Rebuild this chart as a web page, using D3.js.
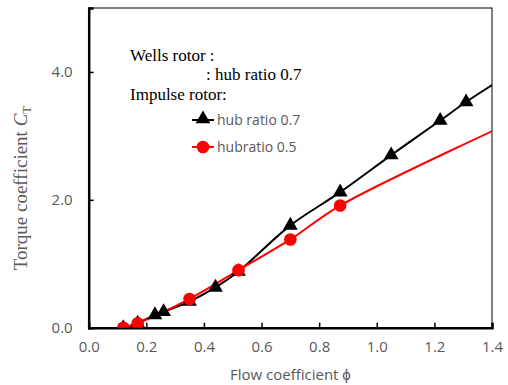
<!DOCTYPE html>
<html>
<head>
<meta charset="utf-8">
<script src="https://cdn.jsdelivr.net/npm/d3@7"></script>
<style>
  html, body { margin: 0; padding: 0; background: #fff; }
  svg { display: block; }
</style>
</head>
<body>
<svg id="chart" width="508" height="385"></svg>
<script>
// Impulse rotor, hub ratio 0.7 (triangles)
const phiHub07 = [0.12, 0.17, 0.23, 0.26, 0.35, 0.44, 0.52, 0.70, 0.873, 1.05, 1.22, 1.31, 1.48];
const ctHub07  = [0.00, 0.07, 0.20, 0.25, 0.41, 0.63, 0.88, 1.60, 2.12, 2.70, 3.24, 3.53, 4.02];
// Impulse rotor, hub ratio 0.5 (circles)
const phiHub05 = [0.12, 0.17, 0.35, 0.52, 0.70, 0.873, 1.50];
const ctHub05  = [0.00, 0.07, 0.45, 0.90, 1.38, 1.91, 3.28];

const xTicks = [0.0, 0.2, 0.4, 0.6, 0.8, 1.0, 1.2, 1.4];
const yTicks = [0.0, 2.0, 4.0];
const seriesNames = ["hub ratio 0.7", "hubratio 0.5"];
const seriesColors = ["#000000", "#ff0000"];

const svg = d3.select("#chart");
const margin = { left: 88.7, right: 16, top: 8, bottom: 57.3 };
const W = 508, H = 385;
const x = d3.scaleLinear().domain([0, 1.4]).range([margin.left, W - margin.right]);
const y = d3.scaleLinear().domain([0, 5]).range([H - margin.bottom, margin.top]);

const tickFont = "'Open Sans', sans-serif";
const serif = "'Liberation Serif', 'Times New Roman', serif";
const grey = "#595959";

svg.append("defs").append("clipPath").attr("id", "plotClip")
  .append("rect")
  .attr("x", x(0)).attr("y", y(5))
  .attr("width", x(1.4) - x(0)).attr("height", y(0) - y(5));

// Frame
svg.append("rect")
  .attr("x", x(0)).attr("y", y(5))
  .attr("width", x(1.4) - x(0)).attr("height", y(0) - y(5))
  .attr("fill", "none").attr("stroke", "#000").attr("stroke-width", 1);

// Axes with inward ticks
const xAxis = svg.append("g").attr("transform", `translate(0,${y(0)})`)
  .call(d3.axisBottom(x).tickValues(xTicks).tickSize(-5).tickPadding(14).tickFormat(d3.format(".1f")));
const yAxis = svg.append("g").attr("transform", `translate(${x(0)},0)`)
  .call(d3.axisLeft(y).tickValues(yTicks).tickSize(-5).tickPadding(16).tickFormat(d3.format(".1f")));
[xAxis, yAxis].forEach(g => {
  g.select(".domain").attr("stroke", "#000").attr("stroke-width", 2.5);
  g.selectAll(".tick line").attr("stroke", "#000").attr("stroke-width", 1.5);
  g.selectAll(".tick text").attr("fill", grey).attr("font-family", tickFont).attr("font-size", 15);
});
xAxis.selectAll(".tick text").attr("dy", "0.71em");

// Axis titles
svg.append("text")
  .attr("x", (x(0) + x(1.4)) / 2).attr("y", 380)
  .attr("text-anchor", "middle")
  .attr("font-family", tickFont).attr("font-size", 15).attr("fill", grey)
  .text("Flow coefficient \u03D5");

const yTitle = svg.append("text")
  .attr("transform", `translate(27,${188}) rotate(-90)`)
  .attr("text-anchor", "middle")
  .attr("font-family", serif).attr("font-size", 19).attr("fill", grey);
yTitle.append("tspan").text("Torque coefficient ");
yTitle.append("tspan").attr("font-style", "italic").text("C");
yTitle.append("tspan").attr("font-size", 13).attr("dy", 4).text("T");

// Series
const plot = svg.append("g").attr("clip-path", "url(#plotClip)");
const line = d3.line().x(d => x(d[0])).y(d => y(d[1])).curve(d3.curveCatmullRom.alpha(0.5));
const data07 = phiHub07.map((p, i) => [p, ctHub07[i]]);
const data05 = phiHub05.map((p, i) => [p, ctHub05[i]]);

plot.append("path").datum(data07).attr("d", line)
  .attr("fill", "none").attr("stroke", seriesColors[0]).attr("stroke-width", 2);
plot.append("path").datum(data05).attr("d", line)
  .attr("fill", "none").attr("stroke", seriesColors[1]).attr("stroke-width", 2);

const tri = d3.symbol().type(d3.symbolTriangle).size(95);
plot.selectAll(".tri").data(data07).join("path")
  .attr("class", "tri")
  .attr("transform", d => `translate(${x(d[0])},${y(d[1])})`)
  .attr("d", tri).attr("fill", seriesColors[0]);
plot.selectAll(".dot").data(data05).join("circle")
  .attr("class", "dot")
  .attr("cx", d => x(d[0])).attr("cy", d => y(d[1])).attr("r", 6.3)
  .attr("fill", seriesColors[1]);

// Legend
const legendText = [
  { t: "Wells rotor :", x: 130, y: 61 },
  { t: ": hub ratio 0.7", x: 206, y: 80 },
  { t: "Impulse rotor:", x: 130, y: 100 }
];
svg.selectAll(".lgTitle").data(legendText).join("text")
  .attr("class", "lgTitle")
  .attr("x", d => d.x).attr("y", d => d.y)
  .attr("font-family", serif).attr("font-size", 17).attr("fill", "#000")
  .text(d => d.t);

const lg = svg.append("g");
seriesNames.forEach((name, i) => {
  const cy = 120 + i * 27;
  lg.append("line").attr("x1", 192).attr("x2", 214).attr("y1", cy).attr("y2", cy)
    .attr("stroke", seriesColors[i]).attr("stroke-width", 2);
  if (i === 0) {
    lg.append("path").attr("transform", `translate(203,${cy - 1})`).attr("d", tri).attr("fill", seriesColors[i]);
  } else {
    lg.append("circle").attr("cx", 203).attr("cy", cy).attr("r", 6.3).attr("fill", seriesColors[i]);
  }
  lg.append("text").attr("x", 217).attr("y", cy).attr("dy", "0.35em")
    .attr("font-family", tickFont).attr("font-size", 14).attr("fill", grey)
    .text(name);
});
</script>
</body>
</html>
